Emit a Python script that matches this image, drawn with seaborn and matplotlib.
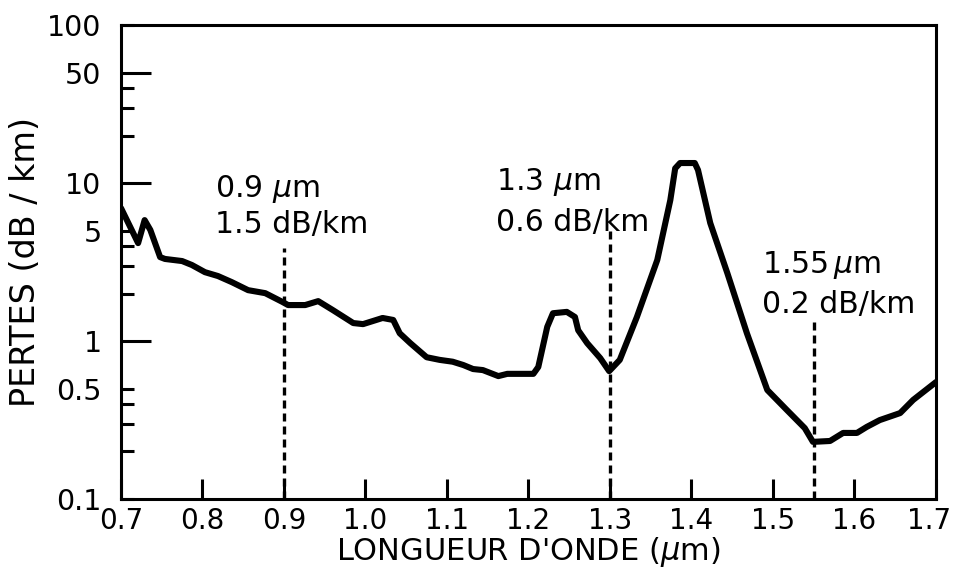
import matplotlib
matplotlib.use('Agg')
import matplotlib.pyplot as plt
import matplotlib.transforms as mtransforms
import seaborn as sns
from matplotlib.ticker import FixedLocator, NullFormatter

# attenuation spectrum (wavelength in um, loss in dB/km)
wavelength = [0.700, 0.721, 0.729, 0.736, 0.748, 0.754, 0.775, 0.787, 0.803, 0.819,
              0.836, 0.856, 0.877, 0.898, 0.905, 0.926, 0.942, 0.960, 0.985, 0.997,
              1.021, 1.034, 1.042, 1.055, 1.075, 1.091, 1.107, 1.120, 1.132, 1.144,
              1.163, 1.174, 1.206, 1.212, 1.223, 1.230, 1.247, 1.257, 1.261, 1.272,
              1.288, 1.299, 1.312, 1.333, 1.358, 1.374, 1.380, 1.386, 1.404, 1.408,
              1.423, 1.444, 1.468, 1.493, 1.517, 1.539, 1.549, 1.570, 1.586, 1.603,
              1.615, 1.631, 1.656, 1.672, 1.700]
loss = [6.95, 4.17, 5.83, 5.05, 3.40, 3.31, 3.21, 3.03, 2.73, 2.58,
        2.36, 2.10, 2.01, 1.77, 1.69, 1.69, 1.79, 1.57, 1.30, 1.28,
        1.40, 1.36, 1.12, 0.97, 0.79, 0.76, 0.74, 0.705, 0.665, 0.655,
        0.60, 0.62, 0.62, 0.685, 1.23, 1.50, 1.53, 1.42, 1.17, 0.97,
        0.78, 0.645, 0.76, 1.42, 3.26, 7.8, 12.4, 13.4, 13.4, 12.1,
        5.59, 2.69, 1.12, 0.49, 0.366, 0.281, 0.23, 0.233, 0.262, 0.262,
        0.286, 0.316, 0.35, 0.424, 0.55]

# transmission windows
window_wl = [0.9, 1.3, 1.55]
window_top = [3.9, 5.0, 1.36]
window_text1 = [r'0.9 $\mu$m', r'1.3 $\mu$m', r'1.55$\,\mu$m']
window_text2 = ['1.5 dB/km', '0.6 dB/km', '0.2 dB/km']
text_x = [0.815, 1.160, 1.486]
text_y1 = [8.15, 9.04, 2.69]
text_y2 = [4.83, 5.0, 1.50]

xticks = [0.7, 0.8, 0.9, 1.0, 1.1, 1.2, 1.3, 1.4, 1.5, 1.6, 1.7]
xticklabels = ['0.7', '0.8', '0.9', '1.0', '1.1', '1.2', '1.3', '1.4', '1.5', '1.6', '1.7']
yticks = [0.1, 0.5, 1, 5, 10, 50, 100]
yticklabels = ['0.1', '0.5', '1', '5', '10', '50', '100']
yminor = [0.2, 0.3, 0.4, 2, 3, 4, 20, 30, 40]
long_ticks = [1, 10, 50]

sns.set_theme(style='white')
plt.rcParams['font.family'] = ['DejaVu Sans']
plt.rcParams['mathtext.fontset'] = 'dejavusans'
plt.rcParams['text.color'] = 'black'
plt.rcParams['axes.labelcolor'] = 'black'
plt.rcParams['xtick.color'] = 'black'
plt.rcParams['ytick.color'] = 'black'

fig = plt.figure(figsize=(9.55, 5.85), dpi=100)
ax = fig.add_axes([0.1267, 0.147, 0.8534, 0.810])

sns.lineplot(x=wavelength, y=loss, color='black', lw=4.4, estimator=None,
             sort=False, ax=ax, solid_joinstyle='round', solid_capstyle='round')

ax.vlines(window_wl, 0.1, window_top, colors='black', lw=2.4,
          linestyles=(0, (2.4, 1.5)))
for x, y1, y2, t1, t2 in zip(text_x, text_y1, text_y2, window_text1, window_text2):
    ax.text(x, y1, t1, fontsize=21.5, va='baseline', ha='left')
    ax.text(x, y2, t2, fontsize=21.5, va='baseline', ha='left')

ax.set_yscale('log')
ax.set_xlim(0.7, 1.7)
ax.set_ylim(0.1, 100)

ax.set_xticks(xticks)
ax.set_xticklabels(xticklabels)
ax.set_yticks(yticks)
ax.set_yticklabels(yticklabels)
ax.yaxis.set_minor_locator(FixedLocator(yminor))
ax.yaxis.set_minor_formatter(NullFormatter())
ax.xaxis.set_minor_locator(FixedLocator([]))

ax.tick_params(axis='x', which='major', direction='in', length=14.4, width=2.2,
               labelsize=20, pad=6, bottom=True, top=False)
ax.tick_params(axis='y', which='major', direction='in', length=9.4, width=2.2,
               labelsize=20.5, pad=14, left=True, right=False)
ax.tick_params(axis='y', which='minor', direction='in', length=9.4, width=2.2,
               left=True, right=False)
for val, tick in zip(yticks, ax.yaxis.get_major_ticks()):
    if val in long_ticks:
        tick.tick1line.set_markersize(21.6)

# keep the last x label inside the canvas
last = ax.get_xticklabels()[-1]
last.set_transform(last.get_transform() +
                   mtransforms.ScaledTranslation(-5 / 72, 0, fig.dpi_scale_trans))

for spine in ax.spines.values():
    spine.set_linewidth(2.2)
    spine.set_color('black')

ax.set_xlabel("LONGUEUR D'ONDE ($\\mu$m)", fontsize=22, labelpad=0)
ax.set_ylabel('PERTES (dB / km)', fontsize=24, labelpad=4)
ax.grid(False)

fig.savefig('out.png', dpi=100)
